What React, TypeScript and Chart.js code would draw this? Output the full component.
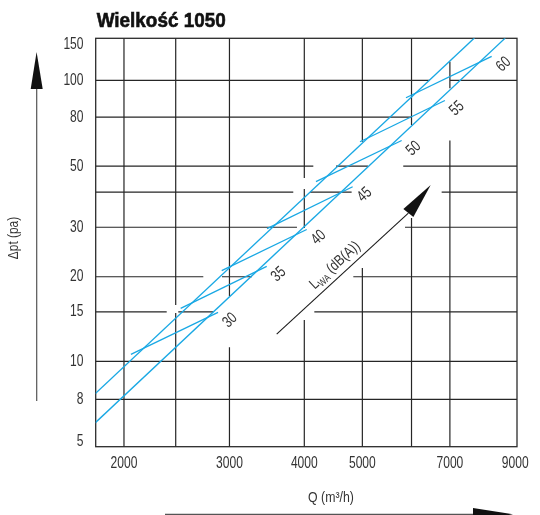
import React, { useEffect, useRef } from "react";
import { Chart, registerables } from "chart.js";

Chart.register(...registerables);

// ---- texts ----
const TITLE = "Wielkość 1050";
const X_TITLE = "Q (m³/h)";
const Y_TITLE = "Δpt (pa)";

// ---- axis ranges (log / log) ----
const Q_MIN = 1794;
const Q_MAX = 9060;
const DP_MIN = 4.97;
const DP_MAX = 141.1;

// ---- tick labels ----
const X_TICK_VALUES = [2000, 3000, 4000, 5000, 7000, 9000];
const X_TICK_LABELS = ["2000", "3000", "4000", "5000", "7000", "9000"];
const Y_TICK_VALUES = [5, 7.32, 10, 15, 20, 30, 49.5, 74, 100, 141.1];
const Y_TICK_LABELS = ["5", "8", "10", "15", "20", "30", "50", "80", "100", "150"];

// ---- working range limits (Δp ~ Q²) ----
const UPPER_LIMIT_Q = [1790, 7700];
const UPPER_LIMIT_DP = [7.66, 141.8];
const LOWER_LIMIT_Q = [1790, 8660];
const LOWER_LIMIT_DP = [6.04, 141.4];

// ---- sound power level lines L_WA ----
const LWA_LEVELS = [30, 35, 40, 45, 50, 55, 60];
const LWA_Q_START = [2054, 2487, 2912, 3466, 4183, 4955, 5913];
const LWA_DP_START = [10.59, 15.44, 21.04, 29.69, 43.63, 60.47, 86.72];
const LWA_Q_END = [2871, 3462, 4037, 4817, 5816, 6867, 8220];
const LWA_DP_END = [14.94, 21.78, 29.45, 41.81, 61.06, 84.75, 121.7];

// ---- L_WA direction arrow (Q, Δp) ----
const LWA_ARROW_START = [3597, 12.51];
const LWA_ARROW_BASE = [5967, 33.71];
const LWA_ARROW_TIP = [6502, 42.4];

// ---- grid: visible pieces of every grid line ----
const GRID_H: { v: number; spans: number[][] }[] = [
  { v: 7.32, spans: [[Q_MIN, Q_MAX]] },
  { v: 10, spans: [[Q_MIN, Q_MAX]] },
  { v: 15, spans: [[Q_MIN, 2357], [2464, 2819], [4157, Q_MAX]] },
  { v: 20, spans: [[Q_MIN, 2713], [2915, 3271], [4829, Q_MAX]] },
  { v: 30, spans: [[Q_MIN, 3889], [5891, Q_MAX]] },
  { v: 40, spans: [[Q_MIN, 3834], [4088, 4798], [6782, Q_MAX]] },
  { v: 49.5, spans: [[Q_MIN, 4141], [4518, 5109], [5851, Q_MAX]] },
  { v: 74, spans: [[Q_MIN, 6044]] },
  { v: 100, spans: [[Q_MIN, 6484], [7002, Q_MAX]] },
];
const GRID_V: { v: number; spans: number[][] }[] = [
  { v: 2000, spans: [[DP_MIN, DP_MAX]] },
  { v: 2440, spans: [[DP_MIN, 14.85], [15.86, DP_MAX]] },
  { v: 3000, spans: [[DP_MIN, 11.22], [17.08, DP_MAX]] },
  { v: 4000, spans: [[DP_MIN, 14.03], [29.81, 41.04], [44.91, DP_MAX]] },
  { v: 5000, spans: [[DP_MIN, 21.48], [60.47, DP_MAX]] },
  { v: 6040, spans: [[DP_MIN, 32.36], [69.35, DP_MAX]] },
  { v: 7000, spans: [[DP_MIN, 61.11], [93.65, 116.5]] },
];

const BLUE = "#19a8e4";
const GRID_COLOR = "#262626";
const TEXT_COLOR = "#333333";
const FONT = '"Liberation Sans", Arial, sans-serif';

function drawText(
  ctx: CanvasRenderingContext2D,
  text: string,
  x: number,
  y: number,
  font: string,
  sx: number,
  align: CanvasTextAlign,
  baseline: CanvasTextBaseline,
  angle = 0,
  color = TEXT_COLOR
) {
  ctx.save();
  ctx.translate(x, y);
  if (angle) ctx.rotate(angle);
  ctx.scale(sx, 1);
  ctx.font = font;
  ctx.textAlign = align;
  ctx.textBaseline = baseline;
  ctx.fillStyle = color;
  ctx.fillText(text, 0, 0);
  ctx.restore();
}

const diagramPlugin = {
  id: "diagram",
  beforeDatasetsDraw(chart: any) {
    const { ctx, chartArea: a, scales } = chart;
    const xs = scales.x;
    const ys = scales.y;
    ctx.save();
    ctx.strokeStyle = GRID_COLOR;
    ctx.lineWidth = 1.2;
    ctx.beginPath();
    GRID_H.forEach((g) => {
      const py = ys.getPixelForValue(g.v);
      g.spans.forEach(([q0, q1]) => {
        ctx.moveTo(xs.getPixelForValue(q0), py);
        ctx.lineTo(xs.getPixelForValue(q1), py);
      });
    });
    GRID_V.forEach((g) => {
      const px = xs.getPixelForValue(g.v);
      g.spans.forEach(([p0, p1]) => {
        ctx.moveTo(px, ys.getPixelForValue(p0));
        ctx.lineTo(px, ys.getPixelForValue(p1));
      });
    });
    ctx.stroke();
    ctx.strokeStyle = "#2b2b2b";
    ctx.lineWidth = 1.3;
    ctx.strokeRect(a.left, a.top, a.right - a.left, a.bottom - a.top);
    ctx.restore();
  },
  afterDatasetsDraw(chart: any) {
    const { ctx, chartArea: a, scales } = chart;
    const xs = scales.x;
    const ys = scales.y;
    const angle = (-43 * Math.PI) / 180;
    const tickFont = `16.5px ${FONT}`;

    // level numbers at the upper end of each L_WA line
    LWA_LEVELS.forEach((lv, i) => {
      const px = xs.getPixelForValue(LWA_Q_END[i]);
      const py = ys.getPixelForValue(LWA_DP_END[i]);
      drawText(ctx, String(lv), px + 12, py + 8, `16px ${FONT}`, 0.75, "center", "middle", angle);
    });

    // L_WA arrow
    const sx0 = xs.getPixelForValue(LWA_ARROW_START[0]);
    const sy0 = ys.getPixelForValue(LWA_ARROW_START[1]);
    const bx = xs.getPixelForValue(LWA_ARROW_BASE[0]);
    const by = ys.getPixelForValue(LWA_ARROW_BASE[1]);
    const tx = xs.getPixelForValue(LWA_ARROW_TIP[0]);
    const ty = ys.getPixelForValue(LWA_ARROW_TIP[1]);
    ctx.save();
    ctx.strokeStyle = "#1a1a1a";
    ctx.lineWidth = 1.1;
    ctx.beginPath();
    ctx.moveTo(sx0, sy0);
    ctx.lineTo(bx, by);
    ctx.stroke();
    const dx = tx - bx;
    const dy = ty - by;
    const len = Math.hypot(dx, dy);
    const nx = -dy / len;
    const ny = dx / len;
    ctx.fillStyle = "#111111";
    ctx.beginPath();
    ctx.moveTo(tx, ty);
    ctx.lineTo(bx + nx * 6.4, by + ny * 6.4);
    ctx.lineTo(bx - nx * 6.4, by - ny * 6.4);
    ctx.closePath();
    ctx.fill();
    ctx.restore();

    // L_WA (dB(A)) label along the arrow
    {
      const mx = (sx0 + bx) / 2;
      const my = (sy0 + by) / 2;
      const ang = Math.atan2(by - sy0, bx - sx0);
      const off = 12;
      const cx = mx + Math.sin(ang) * off;
      const cy = my - Math.cos(ang) * off;
      ctx.save();
      ctx.translate(cx, cy);
      ctx.rotate(ang);
      ctx.scale(0.82, 1);
      ctx.fillStyle = TEXT_COLOR;
      ctx.textBaseline = "alphabetic";
      ctx.textAlign = "left";
      const big = `15px ${FONT}`;
      const small = `10px ${FONT}`;
      ctx.font = big;
      const wL = ctx.measureText("L").width;
      const wRest = ctx.measureText(" (dB(A))").width;
      ctx.font = small;
      const wSub = ctx.measureText("WA").width;
      const total = wL + wSub + wRest;
      let x0 = -total / 2;
      const base = 5;
      ctx.font = big;
      ctx.fillText("L", x0, base);
      x0 += wL;
      ctx.font = small;
      ctx.fillText("WA", x0, base + 3);
      x0 += wSub;
      ctx.font = big;
      ctx.fillText(" (dB(A))", x0, base);
      ctx.restore();
    }

    // tick labels
    Y_TICK_VALUES.forEach((v, i) => {
      const py = Math.min(Math.max(ys.getPixelForValue(v), a.top + 6), a.bottom - 5);
      drawText(ctx, Y_TICK_LABELS[i], 83.5, py, tickFont, 0.73, "right", "middle");
    });
    X_TICK_VALUES.forEach((v, i) => {
      const px = xs.getPixelForValue(v);
      drawText(ctx, X_TICK_LABELS[i], px, a.bottom + 17, tickFont, 0.73, "center", "middle");
    });

    // axis titles
    drawText(ctx, X_TITLE, 331, a.bottom + 51, `15px ${FONT}`, 0.82, "center", "middle");
    drawText(ctx, Y_TITLE, 14, 238, `14px ${FONT}`, 0.85, "center", "middle", -Math.PI / 2);

    // axis direction arrows
    ctx.save();
    ctx.strokeStyle = "#555555";
    ctx.fillStyle = "#111111";
    ctx.lineWidth = 1.2;
    ctx.beginPath();
    ctx.moveTo(36.7, 89);
    ctx.lineTo(36.7, 401);
    ctx.moveTo(165, 514.3);
    ctx.lineTo(474, 514.3);
    ctx.stroke();
    ctx.beginPath();
    ctx.moveTo(36.6, 52);
    ctx.lineTo(42.7, 89);
    ctx.lineTo(30.7, 89);
    ctx.closePath();
    ctx.fill();
    ctx.beginPath();
    ctx.moveTo(513, 514.3);
    ctx.lineTo(473, 508);
    ctx.lineTo(473, 521);
    ctx.closePath();
    ctx.fill();
    ctx.restore();

    // title
    ctx.save();
    ctx.font = `bold 20px ${FONT}`;
    const w = ctx.measureText(TITLE).width;
    const s = 129 / w;
    ctx.translate(96.7, 26.7);
    ctx.scale(s, 1);
    ctx.fillStyle = "#111111";
    ctx.strokeStyle = "#111111";
    ctx.lineWidth = 0.6;
    ctx.textAlign = "left";
    ctx.textBaseline = "alphabetic";
    ctx.fillText(TITLE, 0, 0);
    ctx.strokeText(TITLE, 0, 0);
    ctx.restore();
  },
};

const lineStyle = {
  borderColor: BLUE,
  backgroundColor: BLUE,
  borderWidth: 1.3,
  pointRadius: 0,
  showLine: true,
  fill: false,
  tension: 0,
};

export default function App() {
  const canvasRef = useRef<HTMLCanvasElement | null>(null);

  useEffect(() => {
    const canvas = canvasRef.current;
    if (!canvas) return;
    const datasets: any[] = [
      {
        label: "upper limit",
        data: UPPER_LIMIT_Q.map((q, i) => ({ x: q, y: UPPER_LIMIT_DP[i] })),
        ...lineStyle,
      },
      {
        label: "lower limit",
        data: LOWER_LIMIT_Q.map((q, i) => ({ x: q, y: LOWER_LIMIT_DP[i] })),
        ...lineStyle,
      },
      ...LWA_LEVELS.map((lv, i) => ({
        label: `L_WA ${lv}`,
        data: [
          { x: LWA_Q_START[i], y: LWA_DP_START[i] },
          { x: LWA_Q_END[i], y: LWA_DP_END[i] },
        ],
        ...lineStyle,
      })),
    ];

    const chart = new Chart(canvas, {
      type: "scatter",
      data: { datasets },
      options: {
        responsive: false,
        animation: false,
        devicePixelRatio: 1,
        layout: { padding: { left: 0, top: 38.3, right: 23, bottom: 0 } },
        plugins: {
          legend: { display: false },
          tooltip: { enabled: false },
          title: { display: false },
        },
        scales: {
          x: {
            type: "logarithmic",
            min: Q_MIN,
            max: Q_MAX,
            grid: { display: false },
            border: { display: false },
            ticks: { display: false },
            afterFit: (s: any) => {
              s.height = 68.3;
            },
          },
          y: {
            type: "logarithmic",
            min: DP_MIN,
            max: DP_MAX,
            grid: { display: false },
            border: { display: false },
            ticks: { display: false },
            afterFit: (s: any) => {
              s.width = 95.7;
            },
          },
        },
      } as any,
      plugins: [diagramPlugin],
    });
    return () => chart.destroy();
  }, []);

  return (
    <div style={{ position: "absolute", left: 0, top: 0, width: 540, height: 515, background: "#ffffff" }}>
      <canvas ref={canvasRef} width={540} height={515} />
    </div>
  );
}
